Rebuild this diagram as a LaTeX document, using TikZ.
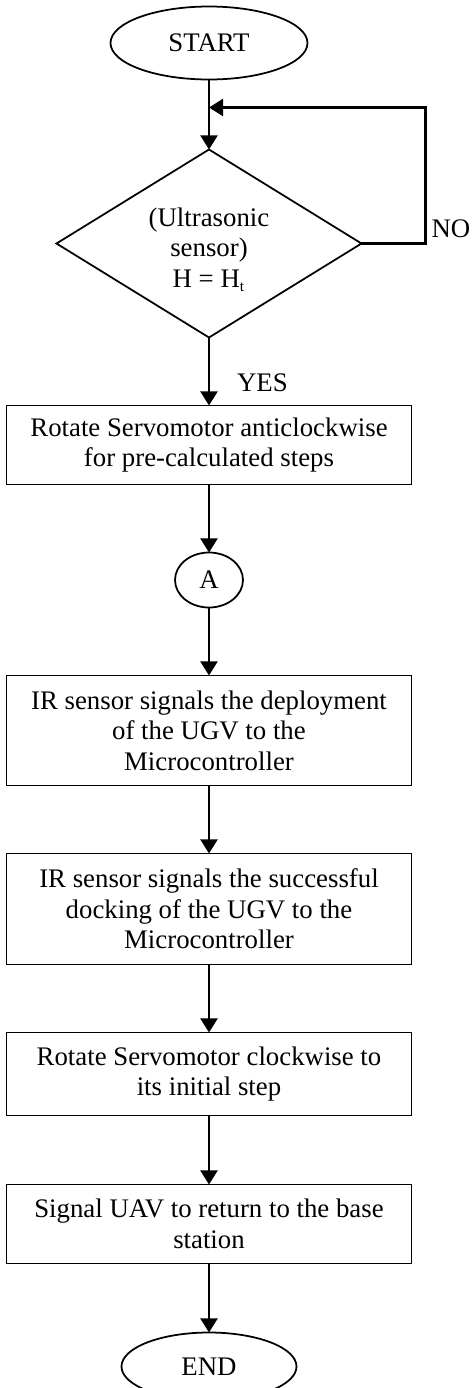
\documentclass[tikz,border=0pt]{standalone}
\usepackage{fontspec}
\setmainfont{Liberation Serif}
\usepackage{tikz}
\usetikzlibrary{positioning, shapes.geometric, arrows.meta, calc}

\begin{document}
\begin{tikzpicture}[every node/.style={font=\fontsize{12.2}{13.9}\selectfont},
  box/.style={rectangle, draw, line width=0.8pt, outer sep=0pt, minimum width=6.48cm, align=center, inner sep=2pt},
  term/.style={ellipse, draw, line width=0.8pt, outer sep=0pt, inner sep=1pt},
  decision/.style={diamond, draw, line width=0.8pt, outer sep=0pt, aspect=1.62, inner sep=0pt, minimum width=4.88cm, minimum height=3.008cm, align=center},
  arrow/.style={-{Triangle[length=6.4pt, width=7.7pt]}, line width=1.1pt},
  lbl/.style={inner sep=0pt}
]

\useasboundingbox (-3.344,0.688) rectangle (4.208,-21.52);

% Flow steps
\node[term, minimum width=3.152cm, minimum height=1.168cm] (start) at (0,0) {START};
\node[decision, below=1.12cm of start] (sens) {\rule{0pt}{14pt}(Ultrasonic\\sensor)\\H = H\textsubscript{\scriptsize t}};
\node[box, minimum height=1.264cm, below=1.088cm of sens] (ccw) {Rotate Servomotor anticlockwise\\for pre-calculated steps};
\node[term, minimum width=1.088cm, minimum height=0.88cm, below=1.088cm of ccw] (conA) {A};
\node[box, minimum height=1.76cm, below=1.088cm of conA] (deploy) {IR sensor signals the deployment\\of the UGV to the\\Microcontroller};
\node[box, minimum height=1.776cm, below=1.088cm of deploy] (dock) {IR sensor signals the successful\\docking of the UGV to the\\Microcontroller};
\node[box, minimum height=1.328cm, below=1.088cm of dock] (cw) {Rotate Servomotor clockwise to\\its initial step};
\node[box, minimum height=1.264cm, below=1.104cm of cw] (uav) {Signal UAV to return to the base\\station};
\node[term, minimum width=2.8cm, minimum height=1.088cm, below=1.104cm of uav] (stop) {END};

% Loop back
\coordinate (join) at ($(start.south)!0.4!(sens.north)$);
\coordinate[right=1.024cm of sens.east] (noturn);

% Arrows
\draw[arrow] (start) -- (sens);
\draw[arrow] (sens.east) -- (noturn) |- (join);
\node[lbl, anchor=west] (nolbl) at ([xshift=0.09cm, yshift=0.24cm]noturn) {NO};
\draw[arrow] (sens) -- node[lbl, right=0.43cm, pos=0.66] (yeslbl) {YES} (ccw);
\draw[arrow] (ccw) -- (conA);
\draw[arrow] (conA) -- (deploy);
\draw[arrow] (deploy) -- (dock);
\draw[arrow] (dock) -- (cw);
\draw[arrow] (cw) -- (uav);
\draw[arrow] (uav) -- (stop);

\end{tikzpicture}
\end{document}
